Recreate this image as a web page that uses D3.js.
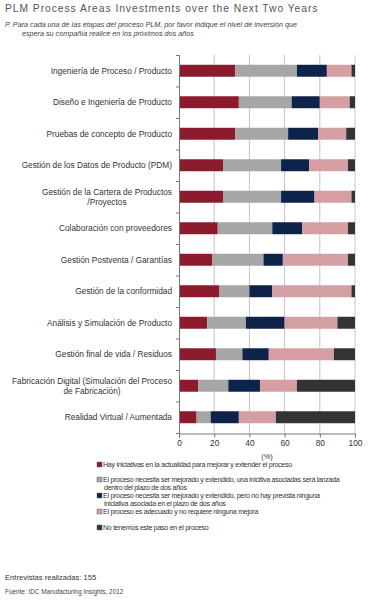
<!DOCTYPE html>
<html>
<head>
<meta charset="utf-8">
<script src="https://cdn.jsdelivr.net/npm/d3@7"></script>
<style>
  body { margin: 0; background: #fff; }
  svg { font-family: "Liberation Sans", Arial, sans-serif; }
</style>
</head>
<body>
<div id="chart"></div>
<script>
// chart data
var categories = [
  ["Ingeniería de Proceso / Producto"],
  ["Diseño e Ingeniería de Producto"],
  ["Pruebas de concepto de Producto"],
  ["Gestión de los Datos de Producto (PDM)"],
  ["Gestión de la Cartera de Productos", "/Proyectos"],
  ["Colaboración con proveedores"],
  ["Gestión Postventa / Garantías"],
  ["Gestión de la conformidad"],
  ["Análisis y Simulación de Producto"],
  ["Gestión final de vida / Residuos"],
  ["Fabricación Digital (Simulación del Proceso", "de Fabricación)"],
  ["Realidad Virtual / Aumentada"]
];
var iniciativas  = [32, 34, 32, 25, 25, 22, 19, 23, 16, 21, 11, 10];
var seraLanzada  = [35, 30, 30, 33, 33, 31, 29, 17, 22, 15, 17,  8];
var sinIniciativa = [17, 16, 17, 16, 19, 17, 11, 13, 22, 15, 18, 16];
var adecuado     = [14, 17, 16, 22, 21, 26, 37, 45, 30, 37, 21, 21];
var noTenemos    = [ 2,  3,  5,  4,  2,  4,  4,  2, 10, 12, 33, 45];

var seriesKeys = ["ini", "lan", "sin", "ade", "no"];
var seriesColors = ["#8b1a2c", "#a6a6a6", "#0d2349", "#d59ea2", "#333333"];
var legendLabels = [
  ["Hay iniciativas en la actualidad para mejorar y extender el proceso"],
  ["El proceso necesita ser mejorado y extendido, una inicitiva asociadas será lanzada", "dentro del plazo de dos años"],
  ["El proceso necesita ser mejorado y extendido,  pero no hay prevista ninguna", "iniciativa asociada en el plazo de dos años"],
  ["El proceso es adecuado y no requiere ninguna mejora"],
  ["No tenemos este paso en el proceso"]
];
var xTicks = [0, 20, 40, 60, 80, 100];

var width = 368, height = 600;

var rows = categories.map(function(c, i) {
  return { name: c[0], lines: c, ini: iniciativas[i], lan: seraLanzada[i],
           sin: sinIniciativa[i], ade: adecuado[i], no: noTenemos[i] };
});

var svg = d3.select("#chart").append("svg")
    .attr("width", width)
    .attr("height", height);

// title + question
svg.append("text")
    .attr("x", 5).attr("y", 12)
    .attr("font-size", 10.3)
    .attr("letter-spacing", 0.95)
    .attr("fill", "#555")
    .text("PLM Process Areas Investments over the Next Two Years");

svg.append("text")
    .attr("x", 5).attr("y", 27)
    .attr("font-size", 7.2)
    .attr("font-style", "italic")
    .attr("fill", "#444")
    .text("P. Para cada una de las etapas del proceso PLM, por favor indique el nivel de inversión que");
svg.append("text")
    .attr("x", 22).attr("y", 36)
    .attr("font-size", 7.2)
    .attr("font-style", "italic")
    .attr("fill", "#444")
    .text("espera su compañía realice en los próximos dos años");

// scales
var x = d3.scaleLinear().domain([0, 100]).range([179, 355]);
var y = d3.scaleBand()
    .domain(rows.map(function(d) { return d.name; }))
    .range([55, 433])
    .paddingInner(0.62)
    .paddingOuter(0.31);

// vertical gridlines
svg.append("g").selectAll("line")
    .data(xTicks.slice(1))
  .enter().append("line")
    .attr("x1", function(d) { return x(d); })
    .attr("x2", function(d) { return x(d); })
    .attr("y1", 55).attr("y2", 433)
    .attr("stroke", "#c4c4c4")
    .attr("stroke-width", 1);

// stacked bars
var stack = d3.stack().keys(seriesKeys);
var layers = stack(rows);

svg.append("g").selectAll("g")
    .data(layers)
  .enter().append("g")
    .attr("fill", function(d, i) { return seriesColors[i]; })
  .selectAll("rect")
    .data(function(d) { return d; })
  .enter().append("rect")
    .attr("x", function(d) { return x(d[0]); })
    .attr("width", function(d) { return x(d[1]) - x(d[0]); })
    .attr("y", function(d) { return y(d.data.name); })
    .attr("height", y.bandwidth());

// left axis line with ticks between categories
var step = y.step();
var yAxisG = svg.append("g");
yAxisG.append("line")
    .attr("x1", 179.5).attr("x2", 179.5)
    .attr("y1", 55).attr("y2", 433)
    .attr("stroke", "#777");
yAxisG.selectAll(".ytick")
    .data(d3.range(rows.length + 1))
  .enter().append("line")
    .attr("class", "ytick")
    .attr("x1", 176).attr("x2", 179.5)
    .attr("y1", function(i) { return 55 + i * step + 0.5; })
    .attr("y2", function(i) { return 55 + i * step + 0.5; })
    .attr("stroke", "#777");

// category labels (two-line ones are centred as a block)
var labelG = svg.append("g")
    .attr("font-size", 8.3)
    .attr("fill", "#333");
rows.forEach(function(d) {
  var cy = y(d.name) + y.bandwidth() / 2;
  if (d.lines.length === 1) {
    labelG.append("text")
        .attr("x", 172).attr("y", cy + 2.9)
        .attr("text-anchor", "end")
        .text(d.lines[0]);
  } else {
    var t1 = labelG.append("text")
        .attr("x", 172).attr("y", cy - 1.5)
        .attr("text-anchor", "end")
        .text(d.lines[0]);
    var w = t1.node().getComputedTextLength();
    labelG.append("text")
        .attr("x", 172 - w / 2).attr("y", cy + 8)
        .attr("text-anchor", "middle")
        .text(d.lines[1]);
  }
});

// bottom axis
var xAxis = d3.axisBottom(x).tickValues(xTicks).tickSize(4).tickPadding(3);
var xg = svg.append("g")
    .attr("transform", "translate(0,433.5)")
    .call(xAxis);
xg.select(".domain").attr("stroke", "#777");
xg.selectAll(".tick line").attr("stroke", "#777");
xg.selectAll("text")
    .attr("font-size", 8.4)
    .attr("fill", "#333")
    .attr("font-family", "Liberation Sans, Arial, sans-serif");

svg.append("text")
    .attr("x", x(50)).attr("y", 459)
    .attr("text-anchor", "middle")
    .attr("font-size", 7.5)
    .attr("fill", "#333")
    .text("(%)");

// legend
var legendY = [467, 482, 498, 514, 530];
var legend = svg.append("g")
    .attr("font-size", 7.1)
    .attr("letter-spacing", -0.3)
    .attr("fill", "#333");
legendLabels.forEach(function(lines, i) {
  legend.append("rect")
      .attr("x", 97).attr("y", legendY[i] - 5)
      .attr("width", 5).attr("height", 5)
      .attr("fill", seriesColors[i])
      .attr("stroke", "#666")
      .attr("stroke-width", 0.5);
  lines.forEach(function(l, j) {
    legend.append("text")
        .attr("x", j === 0 ? 103 : 104)
        .attr("y", legendY[i] + j * 8)
        .text(l);
  });
});

// footer
svg.append("text")
    .attr("x", 5).attr("y", 580)
    .attr("font-size", 7.6)
    .attr("fill", "#333")
    .text("Entrevistas realizadas: 155");
svg.append("text")
    .attr("x", 5).attr("y", 594)
    .attr("font-size", 6.4)
    .attr("fill", "#444")
    .text("Fuente: IDC Manufacturing Insights, 2012");
</script>
</body>
</html>
